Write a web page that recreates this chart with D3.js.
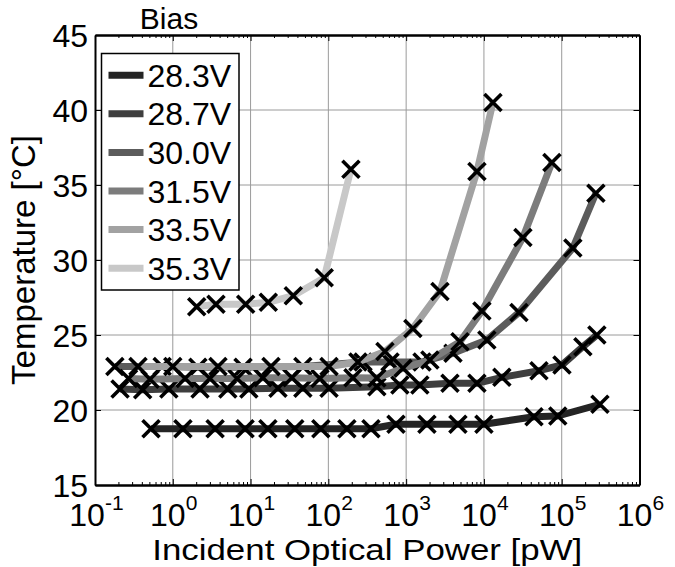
<!DOCTYPE html>
<html>
<head>
<meta charset="utf-8">
<script src="https://cdn.jsdelivr.net/npm/d3@7"></script>
<style>
body { margin: 0; background: #fff; }
svg { display: block; font-family: "Liberation Sans", Arial, sans-serif; }
</style>
</head>
<body>
<svg id="chart" width="675" height="567"></svg>
<script>
// bias settings and their line greys
const biasLabels = ["28.3V", "28.7V", "30.0V", "31.5V", "33.5V", "35.3V"];
const biasColors = ["#242424", "#3e3e3e", "#5c5c5c", "#7c7c7c", "#a2a2a2", "#c8c8c8"];

// incident power [pW] and temperature [°C], one pair per bias
const power283 = [0.525, 1.35, 3.5, 8.5, 16.7, 37, 80, 173, 353, 740, 1850, 4630, 10000, 44000, 89000, 310000];
const temp283 = [18.75, 18.75, 18.75, 18.75, 18.75, 18.75, 18.75, 18.75, 18.75, 19.05, 19.05, 19.05, 19.05, 19.55, 19.6, 20.38];
const power287 = [0.21, 0.41, 0.89, 2.24, 5.1, 9.5, 22.5, 47, 102, 420, 830, 1500, 3660, 8130, 17000, 51000, 100700, 187000, 283000];
const temp287 = [21.4, 21.35, 21.4, 21.4, 21.4, 21.4, 21.45, 21.45, 21.45, 21.55, 21.67, 21.67, 21.78, 21.78, 22.18, 22.62, 23.0, 24.22, 25.0];
const power300 = [0.18, 0.73, 2.1, 8.0, 47, 279, 620, 1600, 4000, 10900, 28200, 139000, 275000];
const temp300 = [22.9, 22.9, 22.85, 22.85, 22.9, 23.2, 23.2, 23.2, 23.78, 24.67, 26.5, 30.8, 34.45];
const power315 = [0.27, 0.51, 1.44, 3.0, 6.7, 14.4, 34, 78, 207, 420, 910, 2020, 4920, 9420, 31700, 74800];
const temp315 = [22.1, 22.05, 22.1, 22.1, 22.1, 22.15, 22.15, 22.1, 22.15, 22.13, 22.78, 23.33, 24.55, 26.6, 31.5, 36.5];
const power335 = [0.357, 1.0, 3.81, 18.3, 102, 240, 534, 1220, 2720, 8130, 13060];
const temp335 = [22.9, 22.9, 22.9, 22.9, 22.9, 23.2, 23.9, 25.44, 27.9, 35.9, 40.5];
const power353 = [2.03, 3.59, 8.65, 16.9, 35.4, 88.5, 195];
const temp353 = [26.89, 27.05, 27.05, 27.18, 27.62, 28.82, 36.05];

const xDecades = [-1, 0, 1, 2, 3, 4, 5, 6];
const yTicks = [15, 20, 25, 30, 35, 40, 45];

const powers = [power283, power287, power300, power315, power335, power353];
const temps = [temp283, temp287, temp300, temp315, temp335, temp353];

var margin = { left: 95, top: 35, right: 35.5, bottom: 82 };
var svg = d3.select("#chart");
var width = 675 - margin.left - margin.right,
	height = 567 - margin.top - margin.bottom;

var g = svg.append("g")
	.attr("transform", `translate(${margin.left}, ${margin.top})`);

var x = d3.scaleLog().domain([0.1, 1e6]).range([0, width]),
	y = d3.scaleLinear().domain([15, 45]).range([height, 0]);

// grid
var grid = g.append("g").attr("class", "grid");
grid.selectAll(".vg")
	.data(xDecades.slice(1, -1))
	.enter().append("line")
	.attr("x1", d => x(Math.pow(10, d))).attr("x2", d => x(Math.pow(10, d)))
	.attr("y1", 0).attr("y2", height)
	.attr("stroke", "#9a9a9a").attr("stroke-width", 1);
grid.selectAll(".hg")
	.data(yTicks.slice(1, -1))
	.enter().append("line")
	.attr("y1", d => y(d)).attr("y2", d => y(d))
	.attr("x1", 0).attr("x2", width)
	.attr("stroke", "#9a9a9a").attr("stroke-width", 1);

// minor + major ticks on bottom and top
var minor = [];
xDecades.slice(0, -1).forEach(e => {
	for (let k = 2; k <= 9; k++) minor.push(k * Math.pow(10, e));
});
var majors = xDecades.map(e => Math.pow(10, e));

g.append("g")
	.attr("transform", `translate(0, ${height})`)
	.call(d3.axisBottom(x).tickValues(minor).tickSize(-3).tickFormat("").tickSizeOuter(0));
g.append("g")
	.attr("transform", `translate(0, ${height})`)
	.call(d3.axisBottom(x).tickValues(majors).tickSize(-6).tickFormat("").tickSizeOuter(0));
g.append("g")
	.call(d3.axisTop(x).tickValues(minor).tickSize(-3).tickFormat("").tickSizeOuter(0));
g.append("g")
	.call(d3.axisTop(x).tickValues(majors).tickSize(-6).tickFormat("").tickSizeOuter(0));
g.append("g")
	.call(d3.axisLeft(y).tickValues(yTicks).tickSize(-6).tickFormat("").tickSizeOuter(0));
g.append("g")
	.attr("transform", `translate(${width}, 0)`)
	.call(d3.axisRight(y).tickValues(yTicks).tickSize(-6).tickFormat("").tickSizeOuter(0));
g.selectAll(".domain").attr("stroke", "#000").attr("stroke-width", 2);
g.selectAll(".tick line").attr("stroke", "#000").attr("stroke-width", 1);

// tick labels
g.append("g").selectAll("text")
	.data(yTicks)
	.enter().append("text")
	.attr("x", -7)
	.attr("y", d => y(d))
	.attr("dy", "0.36em")
	.attr("text-anchor", "end")
	.attr("font-size", "32px")
	.text(d => d);

// "10" base and exponent as separate texts, centred as a pair on the decade
var xl = g.append("g").selectAll("g")
	.data(xDecades)
	.enter().append("g")
	.attr("transform", d => `translate(${x(Math.pow(10, d))}, ${height + 41})`);
xl.append("text")
	.attr("x", d => d < 0 ? -8 : -5)
	.attr("text-anchor", "middle")
	.attr("font-size", "32px")
	.text("10");
xl.append("text")
	.attr("x", d => d < 0 ? 10 : 13)
	.attr("y", -16)
	.attr("font-size", "21px")
	.text(d => d);

// axis titles
g.append("text")
	.attr("x", width / 2)
	.attr("y", height + 75)
	.attr("text-anchor", "middle")
	.attr("font-size", "30px")
	.attr("textLength", 430)
	.attr("lengthAdjust", "spacingAndGlyphs")
	.text("Incident Optical Power [pW]");
g.append("text")
	.attr("transform", `translate(-60, ${height / 2}) rotate(-90)`)
	.attr("text-anchor", "middle")
	.attr("font-size", "33px")
	.text("Temperature [°C]");

// series: line then markers, in bias order
var line = d3.line()
	.x(d => x(d[0]))
	.y(d => y(d[1]));

powers.forEach((pw, i) => {
	let pts = pw.map((p, j) => [p, temps[i][j]]);
	let s = g.append("g").attr("class", "series");
	s.append("path")
		.datum(pts)
		.attr("d", line)
		.attr("fill", "none")
		.attr("stroke", biasColors[i])
		.attr("stroke-width", 7)
		.attr("stroke-linejoin", "round")
		.attr("stroke-linecap", "butt");
	s.selectAll(".mk")
		.data(pts)
		.enter().append("path")
		.attr("class", "mk")
		.attr("transform", d => `translate(${x(d[0])}, ${y(d[1])})`)
		.attr("d", "M-8.5,-8.5L8.5,8.5M-8.5,8.5L8.5,-8.5")
		.attr("stroke", "#000")
		.attr("stroke-width", 3.6)
		.attr("fill", "none");
});

// legend
var lx = 101.5 - margin.left, ly = 53.5 - margin.top;
var legend = g.append("g").attr("class", "legend");
legend.append("rect")
	.attr("x", lx).attr("y", ly)
	.attr("width", 137.5).attr("height", 236.5)
	.attr("fill", "#fff")
	.attr("stroke", "#000")
	.attr("stroke-width", 1.5);
biasLabels.forEach((b, i) => {
	let cy = ly + 21.7 + i * 38.6;
	legend.append("line")
		.attr("x1", lx + 7).attr("x2", lx + 42)
		.attr("y1", cy).attr("y2", cy)
		.attr("stroke", biasColors[i])
		.attr("stroke-width", 7);
	legend.append("text")
		.attr("x", lx + 46)
		.attr("y", cy)
		.attr("dy", "0.36em")
		.attr("font-size", "32px")
		.text(b);
});
legend.append("text")
	.attr("x", 169 - margin.left)
	.attr("y", 29 - margin.top)
	.attr("text-anchor", "middle")
	.attr("font-size", "30px")
	.text("Bias");
</script>
</body>
</html>
